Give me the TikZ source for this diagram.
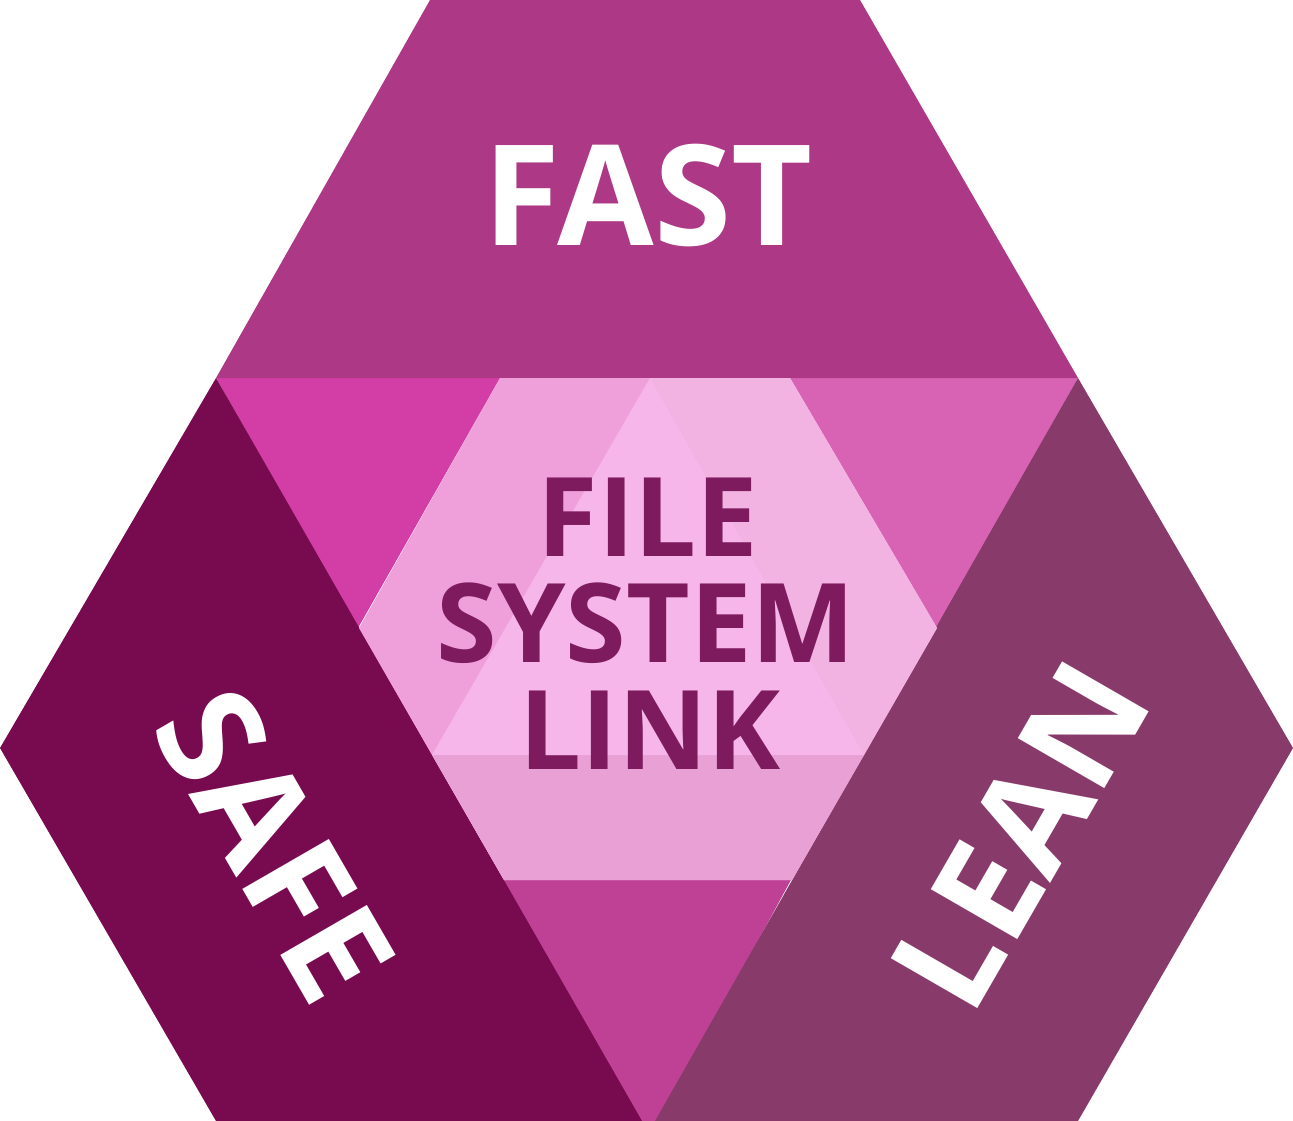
\documentclass[tikz,border=0pt]{standalone}
\usepackage{fontspec}
\setmainfont{Open Sans}
\begin{document}
\begin{tikzpicture}[x=1pt,y=-1pt,
  lbl/.style={font=\bfseries\fontsize{140}{140}\selectfont,text=white,inner sep=0},
  mid/.style={font=\bfseries\fontsize{110}{110}\selectfont,text=#1,inner sep=0}]
\definecolor{cFast}{HTML}{AD3885}
\definecolor{cSafe}{HTML}{780A4F}
\definecolor{cLean}{HTML}{883B6A}
\definecolor{tA}{HTML}{D23DA6}
\definecolor{tB}{HTML}{D863B4}
\definecolor{tC}{HTML}{BE4196}
\definecolor{hex}{HTML}{EFA0DB}
\definecolor{hexR}{HTML}{F2B3E2}
\definecolor{tri}{HTML}{F7B6EA}
\definecolor{hexB}{HTML}{E8A0D5}
\definecolor{txt}{HTML}{7E1A5E}
\useasboundingbox (0,0) rectangle (1293,1121);
\fill[tA] (216,378)--(500,378)--(358,628)--cycle;
\fill[tB] (790,378)--(1078,378)--(937,628)--cycle;
\fill[tC] (500,878)--(792,878)--(660,1121)--(636,1121)--cycle;
\fill[cFast] (430,0)--(860,0)--(1078,378)--(216,378)--cycle;
\fill[cSafe] (216,378)--(0,748)--(216,1121)--(642,1121)--cycle;
\fill[cLean] (1078,378)--(1293,748)--(1078,1121)--(655,1121)--cycle;
\fill[hex] (500,378)--(790,378)--(937,628)--(864,755)--(792,880)--(504,880)--(359,628)--cycle;
\fill[hexR] (650,378)--(790,378)--(937,628)--(864,755)--cycle;
\fill[hexB] (432,755)--(864,755)--(792,880)--(504,880)--cycle;
\fill[tri] (650,378)--(864,755)--(432,755)--cycle;
\node[lbl] (fast) at (648,195) {FAST};
\node[lbl,rotate=-60] (safe) at (275,845) {SAFE};
\node[lbl,rotate=60] (lean) at (1020,835) {LEAN};
\node[mid=txt] (l1) at (648,517) {FILE};
\node[mid=txt] (l2) at (646,623) {SYSTEM};
\node[mid=txt] (l3) at (650,730) {LINK};
\end{tikzpicture}
\end{document}
